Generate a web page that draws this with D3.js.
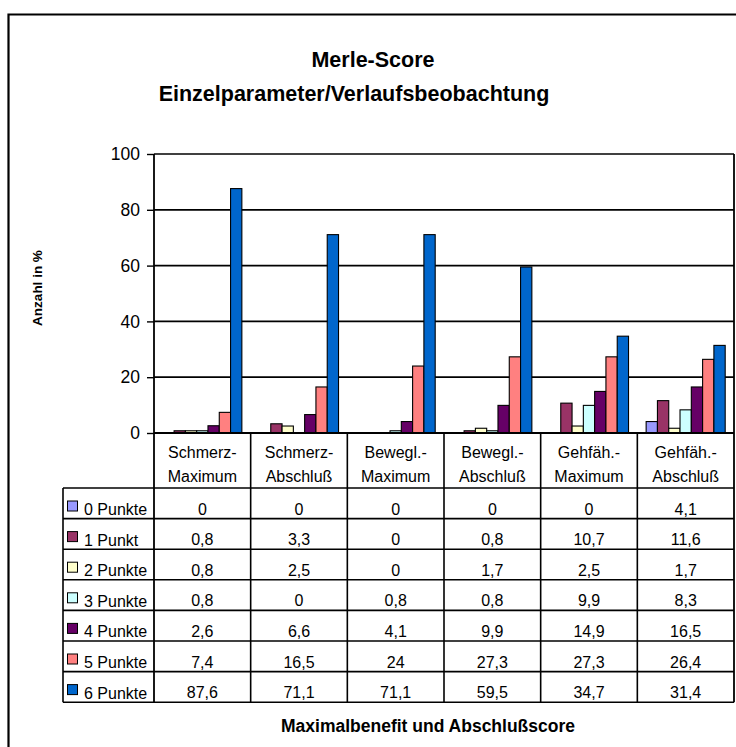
<!DOCTYPE html>
<html>
<head>
<meta charset="utf-8">
<script src="https://cdn.jsdelivr.net/npm/d3@7"></script>
<style>
  html, body { margin: 0; padding: 0; background: #fff; }
  svg { display: block; }
  text { font-family: Arial, "Liberation Sans", sans-serif; fill: #000; }
</style>
</head>
<body>
<script>
// ---- data ----
const categories = [
  ["Schmerz-", "Maximum"],
  ["Schmerz-", "Abschluß"],
  ["Bewegl.-", "Maximum"],
  ["Bewegl.-", "Abschluß"],
  ["Gehfäh.-", "Maximum"],
  ["Gehfäh.-", "Abschluß"]
];
const seriesNames = ["0 Punkte", "1 Punkt", "2 Punkte", "3 Punkte", "4 Punkte", "5 Punkte", "6 Punkte"];
const punkte0 = [0, 0, 0, 0, 0, 4.1];
const punkte1 = [0.8, 3.3, 0, 0.8, 10.7, 11.6];
const punkte2 = [0.8, 2.5, 0, 1.7, 2.5, 1.7];
const punkte3 = [0.8, 0, 0.8, 0.8, 9.9, 8.3];
const punkte4 = [2.6, 6.6, 4.1, 9.9, 14.9, 16.5];
const punkte5 = [7.4, 16.5, 24, 27.3, 27.3, 26.4];
const punkte6 = [87.6, 71.1, 71.1, 59.5, 34.7, 31.4];
const yTicks = [0, 20, 40, 60, 80, 100];
const colors = ["#9999FF", "#993366", "#FFFFCC", "#CCFFFF", "#660066", "#FF8080", "#0066CC"];
const titleLines = ["Merle-Score", "Einzelparameter/Verlaufsbeobachtung"];
const yLabel = "Anzahl in %";
const xLabel = "Maximalbenefit und Abschlußscore";

const seriesValues = [punkte0, punkte1, punkte2, punkte3, punkte4, punkte5, punkte6];

// ---- layout ----
const W = 736, H = 747;
const plotL = 154, plotR = 734, plotT = 154, plotB = 433;
const headerB = 488, rowH = 30.6;
const legendL = 63;
const tableB = headerB + rowH * seriesNames.length;

const svg = d3.select("body").append("svg").attr("width", W).attr("height", H);

// outer frame (cut at right/bottom)
svg.append("path")
  .attr("d", `M8.5,${H + 2} L8.5,14.5 L${W + 2},14.5`)
  .attr("fill", "none").attr("stroke", "#000").attr("stroke-width", 2.2);

// title
const title = svg.append("g").attr("font-weight", "bold").attr("font-size", 21.5).attr("text-anchor", "middle");
title.append("text").attr("x", 373).attr("y", 67).text(titleLines[0]);
title.append("text").attr("x", 354).attr("y", 101).text(titleLines[1]);

// scales
const x0 = d3.scaleBand().domain(d3.range(categories.length)).range([plotL, plotR]).padding(0);
const x1 = d3.scaleBand().domain(d3.range(seriesNames.length))
  .range([0, x0.bandwidth()]).paddingOuter(0.78).paddingInner(0);
const y = d3.scaleLinear().domain([0, 100]).range([plotB, plotT]);

// gridlines
svg.append("g").selectAll("line").data(yTicks.filter(d => d > 0)).join("line")
  .attr("x1", plotL).attr("x2", plotR)
  .attr("y1", d => y(d)).attr("y2", d => y(d))
  .attr("stroke", "#000").attr("stroke-width", 1.7);

// y axis
const yAxis = d3.axisLeft(y).tickValues(yTicks).tickSize(7).tickPadding(7).tickFormat(d3.format("d"));
const ya = svg.append("g").attr("transform", `translate(${plotL},0)`).call(yAxis);
ya.select(".domain").remove();
ya.selectAll(".tick line").attr("stroke", "#000").attr("stroke-width", 1.4);
ya.selectAll(".tick text").attr("font-size", 17.5).attr("font-family", "Arial, 'Liberation Sans', sans-serif").attr("fill", "#000");

// y label
svg.append("text")
  .attr("transform", `translate(42,288) rotate(-90)`)
  .attr("text-anchor", "middle").attr("font-weight", "bold").attr("font-size", 13.5)
  .text(yLabel);

// bars
const groups = svg.append("g").selectAll("g").data(categories).join("g")
  .attr("transform", (d, i) => `translate(${x0(i)},0)`);
groups.selectAll("rect")
  .data((d, ci) => seriesValues.map((vals, si) => ({ si, v: vals[ci] })))
  .join("rect")
  .filter(d => d.v > 0)
  .attr("x", d => x1(d.si))
  .attr("width", x1.bandwidth())
  .attr("y", d => y(d.v))
  .attr("height", d => plotB - y(d.v))
  .attr("fill", d => colors[d.si])
  .attr("stroke", "#000").attr("stroke-width", 1.1);

// plot borders
svg.append("line").attr("x1", plotL).attr("x2", plotL).attr("y1", plotT).attr("y2", tableB)
  .attr("stroke", "#000").attr("stroke-width", 1.8);
svg.append("line").attr("x1", plotR).attr("x2", plotR).attr("y1", plotT).attr("y2", tableB)
  .attr("stroke", "#000").attr("stroke-width", 1.8);
svg.append("line").attr("x1", plotL).attr("x2", plotR).attr("y1", plotB).attr("y2", plotB)
  .attr("stroke", "#000").attr("stroke-width", 1.8);

// data table
const tbl = svg.append("g");
tbl.selectAll("line.vsep").data(d3.range(1, categories.length)).join("line")
  .attr("x1", i => x0(i)).attr("x2", i => x0(i))
  .attr("y1", plotB).attr("y2", tableB)
  .attr("stroke", "#000").attr("stroke-width", 1.6);
tbl.selectAll("line.hrow").data(d3.range(seriesNames.length + 1)).join("line")
  .attr("x1", legendL).attr("x2", plotR)
  .attr("y1", r => headerB + r * rowH).attr("y2", r => headerB + r * rowH)
  .attr("stroke", "#000").attr("stroke-width", 1.6);
tbl.append("line").attr("x1", legendL).attr("x2", legendL).attr("y1", headerB).attr("y2", tableB)
  .attr("stroke", "#000").attr("stroke-width", 1.6);

// header labels
const hdr = tbl.selectAll("text.hdr").data(categories).join("text")
  .attr("text-anchor", "middle").attr("font-size", 16)
  .attr("x", (d, i) => x0(i) + x0.bandwidth() / 2);
hdr.append("tspan").attr("x", (d, i) => x0(i) + x0.bandwidth() / 2).attr("y", 458).text(d => d[0]);
hdr.append("tspan").attr("x", (d, i) => x0(i) + x0.bandwidth() / 2).attr("y", 482).text(d => d[1]);

// legend keys, names and values
const loc = d3.formatLocale({ decimal: ",", thousands: ".", grouping: [3], currency: ["", "€"] });
const fmt = v => loc.format("~f")(v);

const rows = tbl.selectAll("g.row").data(seriesNames).join("g")
  .attr("transform", (d, r) => `translate(0,${headerB + r * rowH})`);
rows.append("rect").attr("x", 67.5).attr("y", 13).attr("width", 10).attr("height", 10)
  .attr("fill", (d, r) => colors[r]).attr("stroke", "#000").attr("stroke-width", 1);
rows.append("text").attr("x", 84).attr("y", rowH - 3.5).attr("font-size", 16).text(d => d);
rows.selectAll("text.val")
  .data((d, r) => seriesValues[r].map((v, ci) => ({ v, ci })))
  .join("text")
  .attr("text-anchor", "middle").attr("font-size", 16)
  .attr("x", d => x0(d.ci) + x0.bandwidth() / 2)
  .attr("y", rowH - 4)
  .text(d => fmt(d.v));

// x label
svg.append("text").attr("x", 428).attr("y", 732).attr("text-anchor", "middle")
  .attr("font-weight", "bold").attr("font-size", 17.5).text(xLabel);
</script>
</body>
</html>
